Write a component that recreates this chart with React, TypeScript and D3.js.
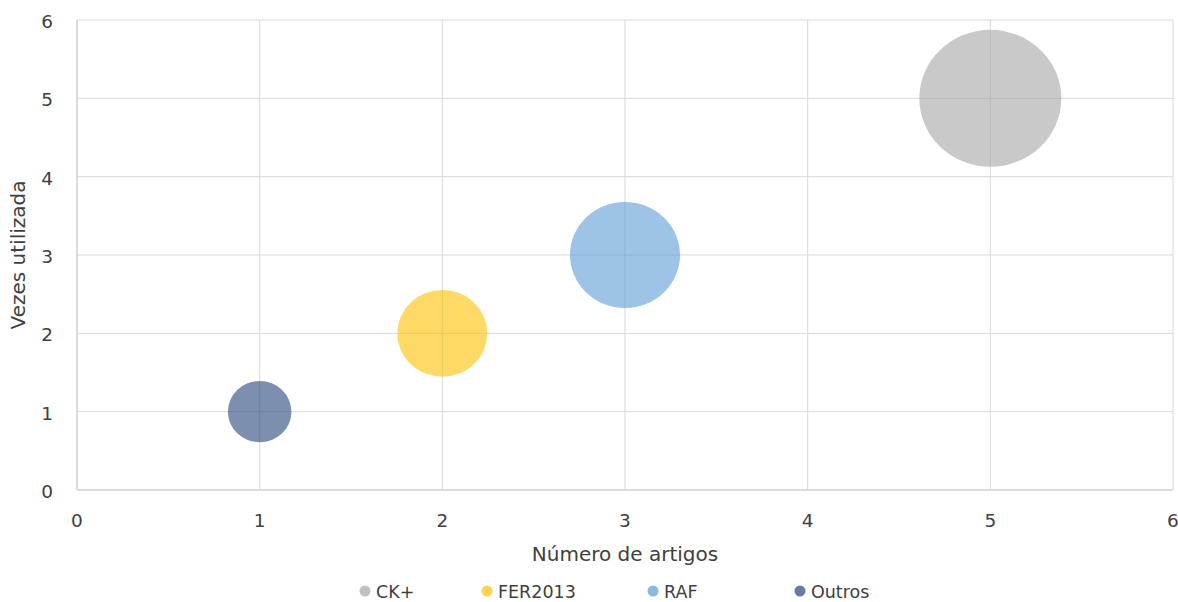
import React, { useRef, useEffect } from "react";
import * as d3 from "d3";

const series = ["CK+", "FER2013", "RAF", "Outros"];
const artigos = [5, 2, 3, 1];
const vezes = [5, 2, 3, 1];
const tamanho = [5, 2, 3, 1];
const colors = ["#a5a5a5", "#ffc000", "#5b9bd5", "#264478"];
const ticks = [0, 1, 2, 3, 4, 5, 6];

const W = 1178;
const H = 602;

export default function App() {
  const svgRef = useRef<SVGSVGElement>(null);

  useEffect(() => {
    if (!svgRef.current) return;
    const svg = d3.select(svgRef.current);
    svg.selectAll("*").remove();

    const margin = { top: 20, right: 5, bottom: 112, left: 77 };
    const x = d3.scaleLinear().domain([0, 6]).range([margin.left, W - margin.right]);
    const y = d3.scaleLinear().domain([0, 6]).range([H - margin.bottom, margin.top]);
    const rx = d3.scaleSqrt().domain([0, 5]).range([0, 71]);
    const ry = d3.scaleSqrt().domain([0, 5]).range([0, 68.5]);
    const font = "'DejaVu Sans', Verdana, sans-serif";
    const grid = "#d9d9d9";

    // grid
    svg.append("g")
      .selectAll("line")
      .data(ticks.slice(1))
      .join("line")
      .attr("x1", (d) => x(d)).attr("x2", (d) => x(d))
      .attr("y1", y(0)).attr("y2", y(6))
      .attr("stroke", grid).attr("stroke-width", 1);
    svg.append("g")
      .selectAll("line")
      .data(ticks.slice(1))
      .join("line")
      .attr("y1", (d) => y(d)).attr("y2", (d) => y(d))
      .attr("x1", x(0)).attr("x2", x(6))
      .attr("stroke", grid).attr("stroke-width", 1);

    // axis lines
    svg.append("line")
      .attr("x1", x(0)).attr("x2", x(6)).attr("y1", y(0)).attr("y2", y(0))
      .attr("stroke", "#d0d0d0").attr("stroke-width", 1.5);
    svg.append("line")
      .attr("x1", x(0)).attr("x2", x(0)).attr("y1", y(0)).attr("y2", y(6))
      .attr("stroke", "#d0d0d0").attr("stroke-width", 1.5);

    // tick labels
    svg.append("g")
      .selectAll("text")
      .data(ticks)
      .join("text")
      .attr("x", (d) => x(d))
      .attr("y", y(0) + 37)
      .attr("text-anchor", "middle")
      .style("font-family", font).style("font-size", "18.5px").style("fill", "#404040")
      .text((d) => d);
    svg.append("g")
      .selectAll("text")
      .data(ticks)
      .join("text")
      .attr("x", 53)
      .attr("y", (d) => y(d) + 8)
      .attr("text-anchor", "end")
      .style("font-family", font).style("font-size", "18.5px").style("fill", "#404040")
      .text((d) => d);

    // bubbles
    const data = series.map((s, i) => ({ s, a: artigos[i], v: vezes[i], t: tamanho[i], c: colors[i] }));
    svg.append("g")
      .selectAll("ellipse")
      .data(data)
      .join("ellipse")
      .attr("cx", (d) => x(d.a))
      .attr("cy", (d) => y(d.v))
      .attr("rx", (d) => rx(d.t))
      .attr("ry", (d) => ry(d.t))
      .attr("fill", (d) => d.c)
      .attr("fill-opacity", 0.6);

    // axis titles
    svg.append("text")
      .attr("x", (x(0) + x(6)) / 2)
      .attr("y", 561)
      .attr("text-anchor", "middle")
      .style("font-family", font).style("font-size", "20px").style("fill", "#404040")
      .text("Número de artigos");
    svg.append("text")
      .attr("transform", `translate(25,${(y(0) + y(6)) / 2}) rotate(-90)`)
      .attr("text-anchor", "middle")
      .style("font-family", font).style("font-size", "20px").style("fill", "#404040")
      .text("Vezes utilizada");

    // legend
    const legendX = [365, 487, 653, 800];
    const lg = svg.append("g")
      .selectAll("g")
      .data(data)
      .join("g")
      .attr("transform", (d, i) => `translate(${legendX[i]},591)`);
    lg.append("circle").attr("r", 5.5).attr("fill", (d) => d.c).attr("fill-opacity", 0.7);
    lg.append("text")
      .attr("x", 11).attr("y", 6.5)
      .style("font-family", font).style("font-size", "17.5px").style("fill", "#404040")
      .text((d) => d.s);
  }, []);

  return (
    <svg
      ref={svgRef}
      width={W}
      height={H}
      style={{ position: "absolute", left: 0, top: 0, background: "#fff" }}
    />
  );
}
